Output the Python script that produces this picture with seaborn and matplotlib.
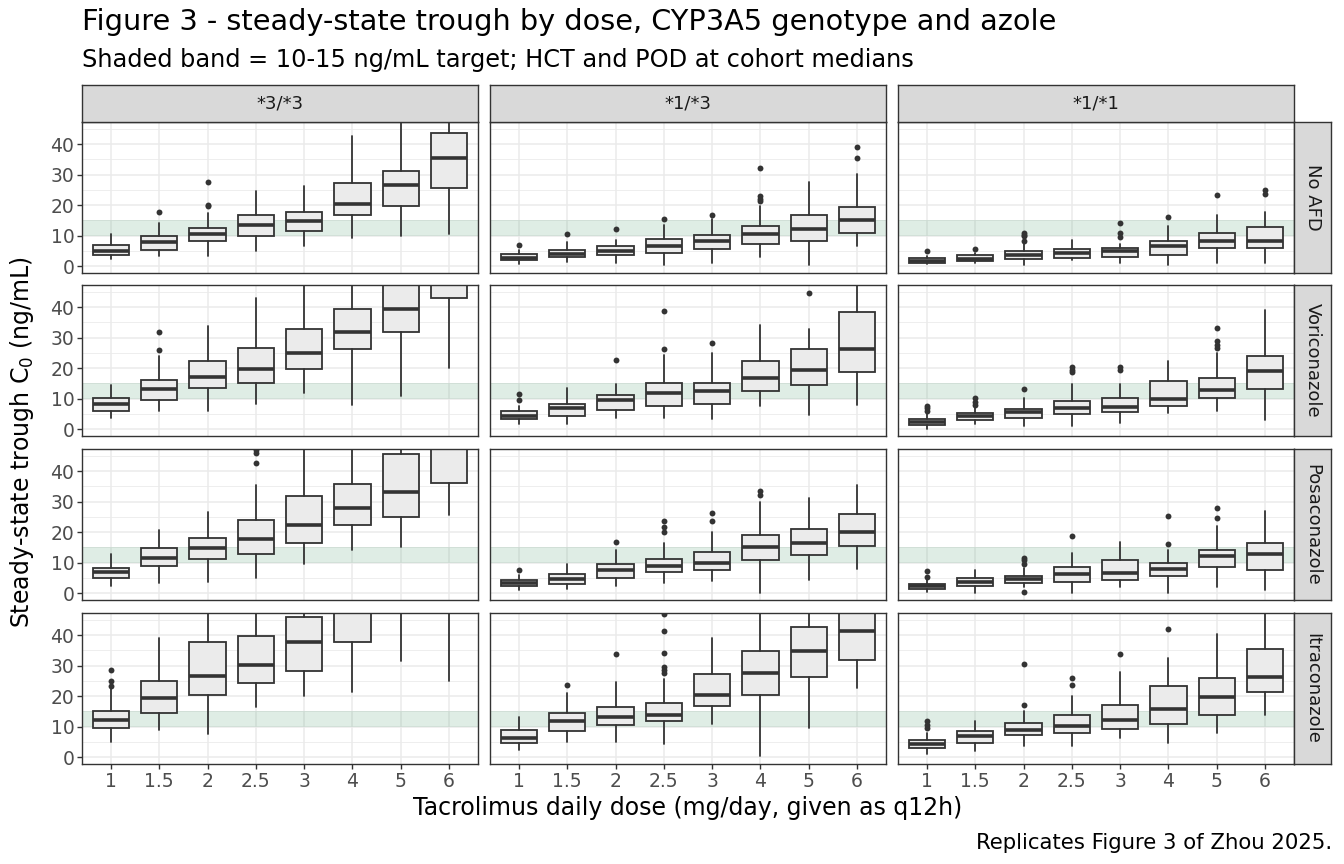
import numpy as np
import pandas as pd
import matplotlib
matplotlib.use("Agg")
import matplotlib.pyplot as plt
import seaborn as sns

sns.set_theme(style="white")
plt.rcParams['font.family'] = ['DejaVu Sans']

doses = ["1", "1.5", "2", "2.5", "3", "4", "5", "6"]
genotypes = ["*3/*3", "*1/*3", "*1/*1"]
azoles = ["No AFD", "Voriconazole", "Posaconazole", "Itraconazole"]

# box summaries (q1, median, q3, whisker low, whisker high, outliers)
# --- No AFD ---
noafd_33_q1 = [3.8, 5.4, 8.1, 10.0, 11.6, 16.9, 19.8, 25.6]
noafd_33_med = [5.1, 8.0, 10.4, 13.5, 14.7, 20.5, 26.7, 35.3]
noafd_33_q3 = [6.8, 10.0, 12.5, 16.7, 17.9, 27.1, 31.3, 43.6]
noafd_33_lo = [2.5, 3.3, 3.3, 4.9, 6.5, 9.3, 10.0, 10.4]
noafd_33_hi = [10.4, 14.0, 17.4, 24.5, 26.2, 42.5, 52.0, 60.0]
noafd_33_out = [[], [17.8], [27.7, 20.1, 19.6], [], [], [], [], []]

noafd_13_q1 = [2.0, 2.9, 3.5, 4.3, 5.6, 7.2, 8.3, 10.8]
noafd_13_med = [2.7, 4.1, 5.1, 6.5, 8.1, 10.5, 12.2, 15.1]
noafd_13_q3 = [4.1, 5.3, 6.6, 8.8, 10.2, 13.0, 16.9, 19.5]
noafd_13_lo = [0.8, 1.4, 1.1, 0.5, 1.1, 2.9, 0.5, 6.5]
noafd_13_hi = [5.4, 8.0, 8.7, 13.6, 15.3, 19.6, 27.6, 30.3]
noafd_13_out = [[6.9], [10.6], [12.1], [15.5], [16.7], [32.3, 22.9, 22.1, 21.3], [], [39.2, 35.4]]

noafd_11_q1 = [1.0, 1.6, 2.4, 2.8, 2.9, 3.7, 5.9, 5.8]
noafd_11_med = [1.6, 2.5, 3.8, 4.3, 4.8, 6.5, 8.2, 8.3]
noafd_11_q3 = [2.6, 3.5, 5.0, 5.6, 5.9, 8.3, 10.8, 12.8]
noafd_11_lo = [0.8, 0.9, 0.5, 1.9, 0.9, 0.5, 0.9, 0.9]
noafd_11_hi = [3.3, 4.4, 7.1, 8.7, 7.4, 13.3, 16.8, 17.7]
noafd_11_out = [[4.8], [5.6], [10.9, 10.3, 9.8, 8.3], [], [14.2, 10.7, 9.4], [16.2], [23.4], [25.1, 23.8]]

# --- Voriconazole ---
vori_33_q1 = [6.1, 9.4, 13.4, 15.0, 19.8, 26.3, 31.9, 42.9]
vori_33_med = [8.3, 13.2, 17.1, 19.8, 25.0, 31.8, 39.3, 52.0]
vori_33_q3 = [10.3, 16.0, 22.5, 26.6, 32.8, 39.5, 48.5, 62.0]
vori_33_lo = [3.7, 6.0, 5.8, 8.2, 11.8, 7.8, 10.7, 20.1]
vori_33_hi = [14.6, 24.1, 33.8, 43.1, 52.0, 56.0, 65.0, 80.0]
vori_33_out = [[], [31.8, 26.1], [], [], [], [], [], []]

vori_13_q1 = [3.3, 4.4, 6.3, 7.7, 8.1, 12.4, 14.5, 18.6]
vori_13_med = [4.4, 6.8, 9.4, 11.7, 12.5, 16.8, 19.4, 26.3]
vori_13_q3 = [5.8, 8.3, 11.2, 15.0, 15.0, 22.3, 26.3, 38.4]
vori_13_lo = [1.6, 1.6, 3.6, 3.8, 3.3, 7.5, 4.7, 7.9]
vori_13_hi = [7.5, 13.5, 14.8, 24.2, 24.8, 34.0, 32.9, 55.0]
vori_13_out = [[11.5, 9.4], [], [22.8], [38.7, 26.3], [28.3], [], [44.5], []]

vori_11_q1 = [1.5, 3.1, 3.7, 4.8, 5.6, 7.6, 10.2, 13.2]
vori_11_med = [2.4, 4.2, 5.5, 6.9, 7.3, 10.0, 12.7, 19.1]
vori_11_q3 = [3.3, 5.3, 6.6, 9.3, 10.2, 15.7, 16.9, 24.1]
vori_11_lo = [0.0, 1.8, 0.9, 0.9, 2.0, 5.3, 6.0, 3.1]
vori_11_hi = [5.0, 6.9, 10.1, 14.8, 14.9, 22.3, 24.8, 38.9]
vori_11_out = [[7.7, 6.9, 6.1], [10.2, 9.0, 8.0], [13.2], [20.3, 19.4, 18.6], [20.4, 19.5], [],
               [33.2, 28.8, 27.5, 26.6], []]

# --- Posaconazole ---
posa_33_q1 = [4.8, 8.8, 11.3, 12.7, 16.4, 22.5, 25.1, 36.0]
posa_33_med = [6.9, 11.6, 14.9, 17.6, 22.5, 27.9, 33.1, 50.0]
posa_33_q3 = [8.1, 14.7, 18.2, 24.0, 31.8, 35.8, 45.5, 60.0]
posa_33_lo = [2.4, 3.3, 3.7, 5.1, 9.7, 14.1, 15.2, 25.6]
posa_33_hi = [12.7, 20.7, 26.5, 35.3, 52.0, 55.0, 65.0, 80.0]
posa_33_out = [[], [], [], [46.8, 45.8, 42.6], [], [], [], []]

posa_13_q1 = [2.2, 3.1, 4.8, 6.9, 7.7, 10.9, 12.6, 15.5]
posa_13_med = [3.2, 4.7, 7.5, 9.0, 10.0, 15.2, 16.5, 20.1]
posa_13_q3 = [4.2, 6.2, 9.7, 11.1, 13.6, 19.2, 20.9, 25.8]
posa_13_lo = [1.1, 1.3, 2.4, 3.4, 4.0, 0.1, 4.3, 7.8]
posa_13_hi = [5.9, 9.7, 14.3, 16.3, 20.2, 29.8, 31.2, 35.6]
posa_13_out = [[7.6], [], [16.7], [23.5, 21.6, 19.9], [26.3, 23.5], [33.6, 32.3], [], []]

posa_11_q1 = [1.5, 2.4, 3.4, 3.8, 4.2, 5.6, 8.7, 7.6]
posa_11_med = [2.3, 3.6, 4.6, 6.3, 6.6, 7.8, 12.1, 12.7]
posa_11_q3 = [3.0, 4.9, 5.7, 8.6, 11.0, 9.8, 14.3, 16.5]
posa_11_lo = [0.4, 0.0, 2.0, 0.1, 2.0, 0.1, 2.0, 0.9]
posa_11_hi = [4.5, 7.7, 8.1, 13.1, 16.8, 14.1, 22.0, 27.0]
posa_11_out = [[7.3, 5.4], [], [11.6, 10.7, 9.7, 0.4], [18.6], [], [25.4, 16.2], [27.8, 24.6], []]

# --- Itraconazole ---
itra_33_q1 = [9.4, 14.6, 20.4, 24.3, 28.3, 37.6, 50.0, 52.0]
itra_33_med = [12.2, 19.3, 26.7, 30.2, 37.7, 50.0, 60.0, 64.0]
itra_33_q3 = [15.1, 24.9, 37.7, 39.7, 46.0, 60.0, 72.0, 78.0]
itra_33_lo = [5.1, 8.9, 7.7, 16.5, 20.1, 21.5, 31.4, 25.1]
itra_33_hi = [22.3, 39.0, 55.0, 58.0, 65.0, 75.0, 90.0, 100.0]
itra_33_out = [[28.5, 24.8, 23.2], [], [], [], [], [], [], []]

itra_13_q1 = [4.6, 8.6, 10.5, 11.9, 16.6, 20.5, 26.4, 31.9]
itra_13_med = [6.2, 11.7, 13.0, 13.9, 20.4, 27.5, 34.9, 41.2]
itra_13_q3 = [9.0, 14.6, 16.5, 17.7, 27.2, 34.9, 42.8, 50.0]
itra_13_lo = [2.4, 4.8, 4.9, 4.2, 10.8, 0.5, 9.7, 22.6]
itra_13_hi = [13.3, 20.9, 24.5, 25.6, 39.2, 52.0, 60.0, 70.0]
itra_13_out = [[], [23.5], [33.7], [47.0, 41.2, 34.1, 29.7, 28.5, 27.5], [], [], [], []]

itra_11_q1 = [3.0, 4.5, 7.2, 8.0, 9.2, 10.7, 13.8, 21.2]
itra_11_med = [4.4, 7.0, 9.0, 10.3, 12.1, 15.8, 19.8, 26.4]
itra_11_q3 = [5.5, 8.7, 11.1, 13.7, 17.0, 23.3, 26.0, 35.4]
itra_11_lo = [1.0, 2.1, 3.7, 3.7, 6.2, 4.6, 8.0, 13.7]
itra_11_hi = [7.9, 11.7, 15.0, 19.9, 27.9, 32.5, 40.3, 52.0]
itra_11_out = [[11.9, 10.4, 9.5], [], [30.5, 17.0], [26.1, 23.8], [33.7], [42.1], [], []]

target_lo, target_hi = 10, 15

g = globals()
azole_keys = ["noafd", "vori", "posa", "itra"]
geno_keys = ["33", "13", "11"]

W, H = 1344, 864
fig = plt.figure(figsize=(W / 100, H / 100), dpi=100)

col_left = [82, 490, 898]
panel_w = 396
row_top = [122, 285, 449, 613]
panel_h = 151
strip = 37

dark = "#333333"
box_fill = "#EBEBEB"
tick_size = 13.5


def px_axes(x, y, w, h):
    return fig.add_axes([x / W, 1 - (y + h) / H, w / W, h / H])


for r, akey in enumerate(azole_keys):
    for c, gkey in enumerate(geno_keys):
        ax = px_axes(col_left[c], row_top[r], panel_w, panel_h)
        name = f"{akey}_{gkey}"
        stats = []
        for i in range(len(doses)):
            stats.append(dict(q1=g[name + "_q1"][i], med=g[name + "_med"][i], q3=g[name + "_q3"][i],
                              whislo=g[name + "_lo"][i], whishi=g[name + "_hi"][i], fliers=[]))
        ax.axhspan(target_lo, target_hi, color="#2E8B57", alpha=0.15, lw=0, zorder=1)
        ax.bxp(stats, positions=np.arange(len(doses)), widths=0.75, patch_artist=True,
               showcaps=False, showfliers=False,
               boxprops=dict(facecolor=box_fill, edgecolor=dark, linewidth=1.3),
               medianprops=dict(color=dark, linewidth=2.6),
               whiskerprops=dict(color=dark, linewidth=1.3), manage_ticks=False, zorder=2)
        out = g[name + "_out"]
        pts = pd.DataFrame({"x": [i for i, vals in enumerate(out) for _ in vals],
                            "y": [v for vals in out for v in vals]})
        if len(pts):
            sns.scatterplot(data=pts, x="x", y="y", ax=ax, color=dark, s=18, linewidth=0,
                            legend=False, zorder=3)
        ax.set_xlim(-0.6, len(doses) - 0.4)
        ax.set_ylim(-2.25, 47.25)
        ax.set_xticks(np.arange(len(doses)))
        ax.set_yticks([0, 10, 20, 30, 40])
        ax.set_yticks([5, 15, 25, 35, 45], minor=True)
        ax.grid(True, which="major", color="#EBEBEB", lw=1.1)
        ax.grid(True, which="minor", axis="y", color="#EBEBEB", lw=0.6)
        ax.set_axisbelow(True)
        ax.set_facecolor("white")
        for s in ax.spines.values():
            s.set_color(dark)
            s.set_linewidth(1.0)
            s.set_visible(True)
        ax.set_xlabel("")
        ax.set_ylabel("")
        ax.tick_params(which="minor", length=0)
        if c == 0:
            ax.set_yticklabels(["0", "10", "20", "30", "40"])
            ax.tick_params(axis="y", which="major", length=3.5, width=1, color=dark,
                           labelsize=tick_size, labelcolor="#4D4D4D", pad=2, left=True)
        else:
            ax.tick_params(axis="y", which="major", left=False, labelleft=False)
        if r == len(azoles) - 1:
            ax.set_xticklabels(doses)
            ax.tick_params(axis="x", which="major", length=3.5, width=1, color=dark,
                           labelsize=tick_size, labelcolor="#4D4D4D", pad=2, bottom=True)
        else:
            ax.tick_params(axis="x", which="major", bottom=False, labelbottom=False)

# facet strips
for c, gname in enumerate(genotypes):
    sax = px_axes(col_left[c], row_top[0] - strip, panel_w, strip)
    sax.set_facecolor("#D9D9D9")
    sax.set_xticks([])
    sax.set_yticks([])
    for s in sax.spines.values():
        s.set_color(dark)
        s.set_linewidth(1.0)
    sax.text(0.5, 0.5, gname, ha="center", va="center", fontsize=13, color="#1A1A1A",
             transform=sax.transAxes)

for r, aname in enumerate(azoles):
    sax = px_axes(col_left[-1] + panel_w, row_top[r], strip, panel_h)
    sax.set_facecolor("#D9D9D9")
    sax.set_xticks([])
    sax.set_yticks([])
    for s in sax.spines.values():
        s.set_color(dark)
        s.set_linewidth(1.0)
    sax.text(0.5, 0.5, aname, ha="center", va="center", fontsize=13, color="#1A1A1A",
             rotation=-90, transform=sax.transAxes)

fig.text(82 / W, 1 - 22 / H, "Figure 3 - steady-state trough by dose, CYP3A5 genotype and azole",
         ha="left", va="center", fontsize=20.7, color="black")
fig.text(82 / W, 1 - 60 / H, "Shaded band = 10-15 ng/mL target; HCT and POD at cohort medians",
         ha="left", va="center", fontsize=17.3, color="black")
fig.text(22 / W, 1 - 442 / H, "Steady-state trough C$_0$ (ng/mL)", ha="center", va="center",
         rotation=90, fontsize=17, color="black")
fig.text(688 / W, 1 - 808 / H, "Tacrolimus daily dose (mg/day, given as q12h)", ha="center",
         va="center", fontsize=17, color="black")
fig.text(1332 / W, 1 - 843 / H, "Replicates Figure 3 of Zhou 2025.", ha="right", va="center",
         fontsize=15.3, color="black")

fig.savefig("out.png", dpi=100, facecolor="white")
